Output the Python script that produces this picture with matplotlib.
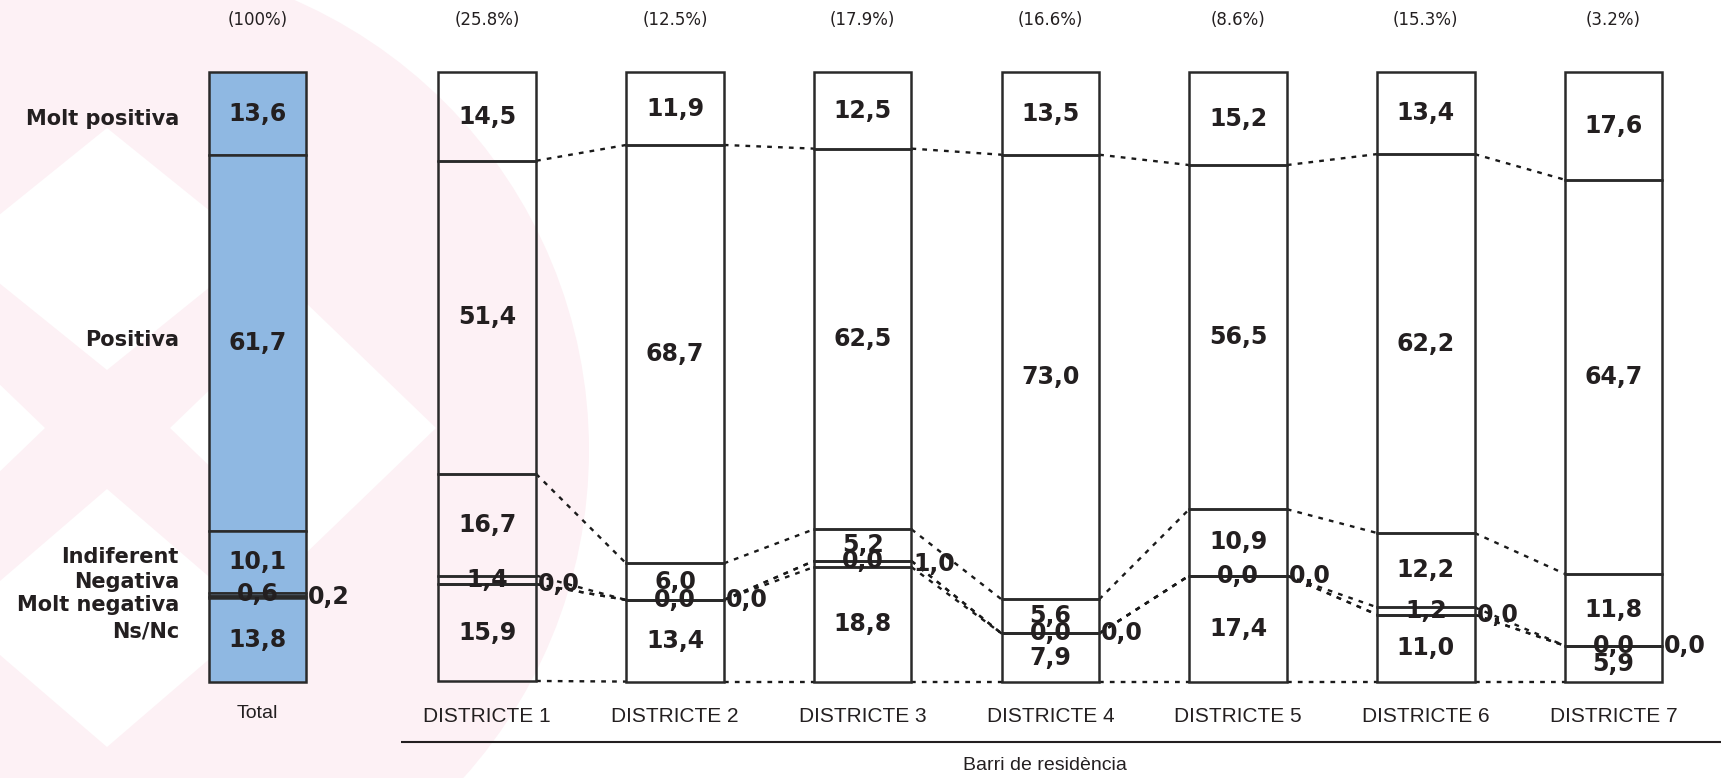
import matplotlib
matplotlib.use("Agg")
import matplotlib.pyplot as plt
from matplotlib.patches import Circle, Polygon
import numpy as np

# ---------------- data ----------------
groups = ['Total', 'DISTRICTE 1', 'DISTRICTE 2', 'DISTRICTE 3', 'DISTRICTE 4',
          'DISTRICTE 5', 'DISTRICTE 6', 'DISTRICTE 7']
shares = ['(100%)', '(25.8%)', '(12.5%)', '(17.9%)', '(16.6%)', '(8.6%)', '(15.3%)', '(3.2%)']
categories = ['Molt positiva', 'Positiva', 'Indiferent', 'Negativa', 'Molt negativa', 'Ns/Nc']
molt_positiva = [13.6, 14.5, 11.9, 12.5, 13.5, 15.2, 13.4, 17.6]
positiva = [61.7, 51.4, 68.7, 62.5, 73.0, 56.5, 62.2, 64.7]
indiferent = [10.1, 16.7, 6.0, 5.2, 5.6, 10.9, 12.2, 11.8]
negativa = [0.6, 1.4, 0.0, 0.0, 0.0, 0.0, 1.2, 0.0]
molt_negativa = [0.2, 0.0, 0.0, 1.0, 0.0, 0.0, 0.0, 0.0]
ns_nc = [13.8, 15.9, 13.4, 18.8, 7.9, 17.4, 11.0, 5.9]
xlabel = 'Barri de residència'

series = [molt_positiva, positiva, indiferent, negativa, molt_negativa, ns_nc]

# ---------------- style ----------------
W, H = 1721, 778
DPI = 100
TXT = '#231f20'
EDGE = '#2a2a2a'
BLUE = '#8fb8e2'
PINK = '#fdf1f5'

fig = plt.figure(figsize=(W / DPI, H / DPI), dpi=DPI)
fig.patch.set_facecolor('white')

# background watermark (pixel coordinates)
bg = fig.add_axes([0, 0, 1, 1], zorder=0)
bg.set_xlim(0, W)
bg.set_ylim(H, 0)
bg.axis('off')
bg.add_patch(Circle((98, 450), 491, facecolor=PINK, edgecolor='none'))
for cx, cy, w, h in [(107, 249, 150, 121), (107, 618, 150, 129),
                     (303, 428, 133, 128), (-88, 428, 133, 128)]:
    bg.add_patch(Polygon([(cx, cy - h), (cx + w, cy), (cx, cy + h), (cx - w, cy)],
                         closed=True, facecolor='white', edgecolor='none'))

# main axes
ax = fig.add_axes([0, 0, 1, 1], zorder=1)
ax.patch.set_alpha(0)
ax.axis('off')
ax.set_xlim(-1.596, 7.573)
ax.set_ylim(115.83, -11.9)

xpos = [-0.225, 1, 2, 3, 4, 5, 6, 7]
bw = 0.52

vals = np.array(series)            # shape (6, 8)
cum = np.vstack([np.zeros(vals.shape[1]), np.cumsum(vals, axis=0)])

def fmt(v):
    return f'{v:.1f}'.replace('.', ',')

for j, x in enumerate(xpos):
    fc = BLUE if j == 0 else 'none'
    for i in range(len(categories)):
        ax.bar(x, vals[i, j], bottom=cum[i, j], width=bw, facecolor=fc,
               edgecolor=EDGE, linewidth=1.8, zorder=3)
        mid = cum[i, j] + vals[i, j] / 2
        if i == 4:
            ax.text(x + bw / 2 + 0.01, mid, fmt(vals[i, j]), ha='left', va='center',
                    fontsize=17, fontweight='bold', color=TXT, zorder=5)
        else:
            ax.text(x, mid, fmt(vals[i, j]), ha='center', va='center',
                    fontsize=17, fontweight='bold', color=TXT, zorder=5)
    ax.text(x, -8.65, shares[j], ha='center', va='center', fontsize=12, color=TXT)
    lab_y = 105.2 if j == 0 else 105.8
    ax.text(x, lab_y, groups[j], ha='center', va='center',
            fontsize=14 if j == 0 else 15, family='Liberation Sans', color=TXT)

# dotted connectors between districts
for j in range(1, len(xpos) - 1):
    for k in range(1, cum.shape[0]):
        ax.plot([xpos[j] + bw / 2, xpos[j + 1] - bw / 2], [cum[k, j], cum[k, j + 1]],
                linestyle=(0, (2.0, 2.6)), color='#1a1a1a', linewidth=1.7, zorder=2)

# row labels
row_y = [7.6, 43.9, 79.5, 83.6, 87.4, 91.7]
for name, y in zip(categories, row_y):
    ax.text(-0.643, y, name, ha='right', va='center', fontsize=15,
            fontweight='bold', color=TXT)

# axis line and x label
ax.plot([0.538, 7.573], [109.9, 109.9], color=TXT, linewidth=1.5, solid_capstyle='butt')
ax.text(3.97, 113.7, xlabel, ha='center', va='center', fontsize=14,
        family='Liberation Sans', color=TXT)

fig.savefig('out.png', dpi=DPI)
